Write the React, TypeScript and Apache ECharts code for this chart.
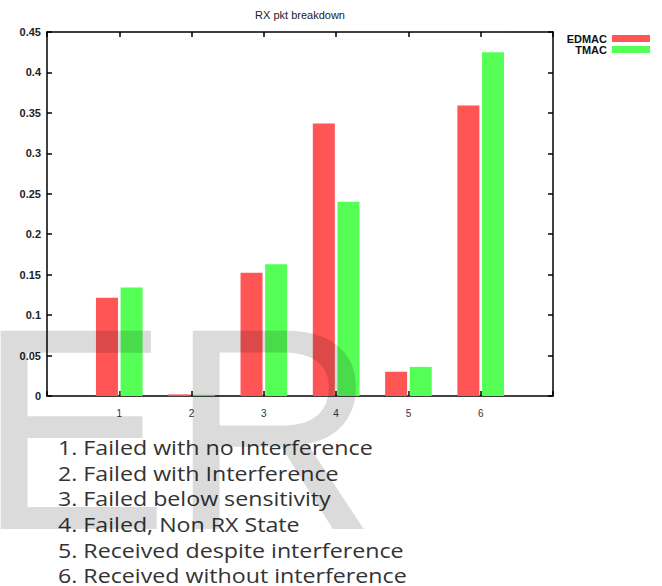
import React, { useEffect, useRef } from "react";
import * as echarts from "echarts";

const chartTitle = "RX pkt breakdown";
const categories = [1, 2, 3, 4, 5, 6];
const seriesNames = ["EDMAC", "TMAC"];
const edmacValues = [0.1215, 0.002, 0.1525, 0.337, 0.03, 0.359];
const tmacValues = [0.134, 0.0015, 0.163, 0.24, 0.036, 0.425];
const notes = [
  "1. Failed with no Interference",
  "2. Failed with Interference",
  "3. Failed below sensitivity",
  "4. Failed, Non RX State",
  "5. Received despite interference",
  "6. Received without interference",
];
const watermark = "ER";

export default function App() {
  const ref = useRef<HTMLDivElement>(null);
  useEffect(() => {
    if (!ref.current) return;
    const chart = echarts.init(ref.current, undefined, { renderer: "svg" });
    const axisLine = { show: true, onZero: false, lineStyle: { color: "#000", width: 1.5 } };
    const axisTick = { show: true, inside: true, length: 5, lineStyle: { color: "#000", width: 1.5 } };
    const option: any = {
      animation: false,
      backgroundColor: "#fff",
      grid: { left: 47, right: 109, top: 32, bottom: 190, containLabel: false },
      legend: {
        orient: "vertical",
        right: 7,
        top: 28,
        align: "right",
        icon: "rect",
        itemWidth: 38,
        itemHeight: 7,
        itemGap: 0,
        textStyle: { fontFamily: "Liberation Sans", fontWeight: "bold", fontSize: 11, color: "#111" },
        data: seriesNames,
      },
      xAxis: [
        {
          type: "value",
          min: 0,
          max: 7,
          interval: 1,
          position: "bottom",
          axisLine,
          axisTick,
          splitLine: { show: false },
          axisLabel: {
            formatter: (v: number) => (categories.includes(v) ? String(v) : ""),
            fontFamily: "Liberation Sans",
            fontSize: 10,
            color: "#333",
            margin: 12,
          },
        },
        {
          type: "value",
          min: 0,
          max: 7,
          interval: 1,
          position: "top",
          axisLine,
          axisTick,
          splitLine: { show: false },
          axisLabel: { show: false },
        },
      ],
      yAxis: [
        {
          type: "value",
          min: 0,
          max: 0.45,
          interval: 0.05,
          position: "left",
          axisLine,
          axisTick,
          splitLine: { show: false },
          axisLabel: {
            formatter: (v: number) => String(parseFloat(v.toFixed(2))),
            fontFamily: "Liberation Sans",
            fontWeight: "bold",
            fontSize: 11,
            color: "#222",
            margin: 6,
          },
        },
        {
          type: "value",
          min: 0,
          max: 0.45,
          interval: 0.05,
          position: "right",
          axisLine,
          axisTick,
          splitLine: { show: false },
          axisLabel: { show: false },
        },
      ],
      series: [
        {
          type: "bar",
          name: seriesNames[0],
          data: categories.map((c, i) => [c, edmacValues[i]]),
          barWidth: 22,
          barGap: "12%",
          itemStyle: { color: "#ff5555" },
        },
        {
          type: "bar",
          name: seriesNames[1],
          data: categories.map((c, i) => [c, tmacValues[i]]),
          barWidth: 22,
          barGap: "12%",
          itemStyle: { color: "#55ff55" },
        },
      ],
      graphic: [
        {
          type: "text",
          x: 300,
          y: 15,
          style: {
            text: chartTitle,
            align: "center",
            verticalAlign: "middle",
            fontFamily: "Liberation Sans",
            fontSize: 11,
            fill: "#222",
          },
        },
        ...notes.map((t, i) => ({
          type: "text",
          x: 58,
          y: 447 + i * 25.7,
          scaleX: 1.16,
          style: {
            text: t,
            align: "left",
            verticalAlign: "middle",
            fontFamily: "Open Sans",
            fontSize: 20,
            fill: "#333",
          },
        })),
        {
          type: "text",
          x: -23,
          y: 429,
          z: 100,
          style: {
            text: watermark,
            align: "left",
            verticalAlign: "middle",
            fontFamily: "Liberation Sans",
            fontSize: 288,
            fill: "rgba(0,0,0,0.14)",
          },
        },
      ],
    };
    chart.setOption(option);
    return () => chart.dispose();
  }, []);
  return (
    <div
      ref={ref}
      style={{ position: "absolute", left: 0, top: 0, width: 662, height: 586 }}
    />
  );
}
